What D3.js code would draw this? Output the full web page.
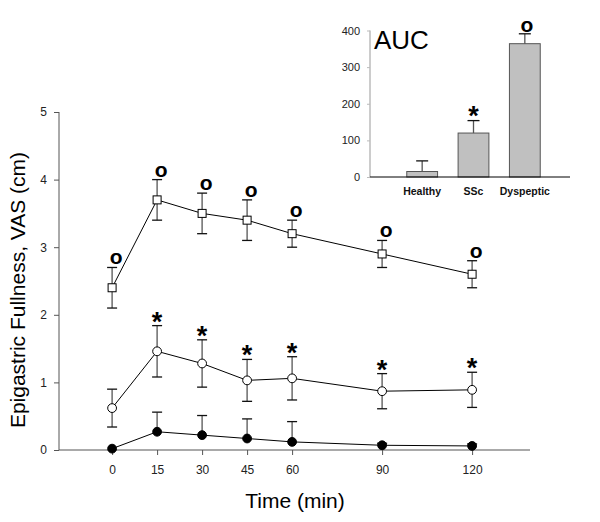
<!DOCTYPE html>
<html><head><meta charset="utf-8">
<script src="https://cdn.jsdelivr.net/npm/d3@7"></script>
<style>body{margin:0;background:#fff}svg{display:block;font-family:"Liberation Sans",Arial,sans-serif}</style>
</head><body>
<svg id="c" width="600" height="522"></svg>
<script>
const times = [0, 15, 30, 45, 60, 90, 120];
const yTicks = [0, 1, 2, 3, 4, 5];
// Dyspeptic (open squares)
const dyspMean = [2.4, 3.7, 3.5, 3.4, 3.2, 2.9, 2.6];
const dyspSE   = [0.3, 0.3, 0.3, 0.3, 0.2, 0.2, 0.2];
const dyspMark = ["o", "o", "o", "o", "o", "o", "o"];
// SSc (open circles)
const sscMean = [0.62, 1.46, 1.28, 1.03, 1.06, 0.87, 0.89];
const sscSE   = [0.28, 0.38, 0.35, 0.31, 0.32, 0.26, 0.26];
const sscMark = ["", "*", "*", "*", "*", "*", "*"];
// Healthy (filled circles)
const healthyMean = [0.02, 0.27, 0.22, 0.17, 0.12, 0.07, 0.06];
const healthySE   = [0.0, 0.29, 0.29, 0.29, 0.30, 0.03, 0.03];
// Inset AUC
const aucCats = ["Healthy", "SSc", "Dyspeptic"];
const aucVals = [15, 120, 364];
const aucSE   = [29, 34, 27];
const aucMark = ["", "*", "o"];
const aucTicks = [0, 100, 200, 300, 400];

const svg = d3.select("#c");
const x = d3.scaleLinear().domain([-17.7, 139.3]).range([59, 530]);
const y = d3.scaleLinear().domain([0, 5]).range([450, 112]);

// axes
const gy = svg.append("g").attr("transform", "translate(59,0)")
  .call(d3.axisLeft(y).tickValues(yTicks).tickSize(5).tickPadding(7).tickFormat(d3.format("d")));
gy.select(".domain").attr("stroke", "#555").attr("d", `M0,${y(5)}V${y(0)}`);
gy.selectAll(".tick line").attr("stroke", "#555");
gy.selectAll("text").attr("font-size", 12).attr("fill", "#222").attr("font-family", "Liberation Sans, Arial");

const gx = svg.append("g").attr("transform", "translate(0,450)")
  .call(d3.axisBottom(x).tickValues(times).tickSize(5).tickPadding(10));
gx.select(".domain").attr("stroke", "#555").attr("d", `M${x.range()[0]},0H${x.range()[1]}`);
gx.selectAll(".tick line").attr("stroke", "#555");
gx.selectAll("text").attr("font-size", 12).attr("fill", "#222").attr("font-family", "Liberation Sans, Arial");

svg.append("text").attr("x", 295).attr("y", 508).attr("text-anchor", "middle")
  .attr("font-size", 21).text("Time (min)");
svg.append("text").attr("transform", "translate(25,290) rotate(-90)").attr("text-anchor", "middle")
  .attr("font-size", 21).text("Epigastric Fullness, VAS (cm)");

function series(mean, se, sym, marks, upOnly) {
  const g = svg.append("g");
  // error bars
  times.forEach((t, i) => {
    const cx = x(t), top = y(mean[i] + se[i]), bot = upOnly ? y(mean[i]) : y(mean[i] - se[i]);
    if (se[i] <= 0) return;
    g.append("line").attr("x1", cx).attr("x2", cx).attr("y1", top).attr("y2", bot).attr("stroke", "#555").attr("stroke-width", 1.3);
    g.append("line").attr("x1", cx - 5).attr("x2", cx + 5).attr("y1", top).attr("y2", top).attr("stroke", "#111").attr("stroke-width", 1.3);
    if (!upOnly) g.append("line").attr("x1", cx - 5).attr("x2", cx + 5).attr("y1", bot).attr("y2", bot).attr("stroke", "#111").attr("stroke-width", 1.3);
  });
  g.append("path").datum(times.map((t, i) => [t, mean[i]]))
    .attr("fill", "none").attr("stroke", "#000").attr("stroke-width", 1)
    .attr("d", d3.line().x(d => x(d[0])).y(d => y(d[1])));
  times.forEach((t, i) => {
    const cx = x(t), cy = y(mean[i]);
    if (sym === "square") g.append("rect").attr("x", cx - 4).attr("y", cy - 4).attr("width", 8).attr("height", 8).attr("fill", "#fff").attr("stroke", "#000");
    else if (sym === "open") g.append("circle").attr("cx", cx).attr("cy", cy).attr("r", 4.4).attr("fill", "#fff").attr("stroke", "#000");
    else g.append("circle").attr("cx", cx).attr("cy", cy).attr("r", 4.4).attr("fill", "#000").attr("stroke", "#000");
    if (marks && marks[i]) {
      const ty = y(mean[i] + se[i]);
      if (marks[i] === "*") g.append("text").attr("x", cx).attr("y", ty + 5).attr("text-anchor", "middle").attr("font-size", 27).attr("font-weight", "bold").text("*");
      else g.append("text").attr("x", cx + 4).attr("y", ty - 3).attr("text-anchor", "middle").attr("font-size", 21).attr("font-weight", "bold").text("o");
    }
  });
}
series(healthyMean, healthySE, "filled", null, true);
series(sscMean, sscSE, "open", sscMark, false);
series(dyspMean, dyspSE, "square", dyspMark, false);

// Inset
const ix = d3.scaleBand().domain(aucCats).range([396.5, 550.5]).paddingInner(0.4).paddingOuter(0.2);
const iy = d3.scaleLinear().domain([0, 400]).range([177, 30.5]);
const gi = svg.append("g");
const giy = gi.append("g").attr("transform", "translate(370,0)")
  .call(d3.axisLeft(iy).tickValues(aucTicks).tickSize(3).tickPadding(7));
giy.select(".domain").attr("stroke", "#999").attr("d", `M0,${iy(400)}V${iy(0)}`);
giy.selectAll(".tick line").attr("stroke", "#bbb");
giy.selectAll("text").attr("font-size", 11).attr("fill", "#222").attr("font-family", "Liberation Sans, Arial");

aucCats.forEach((c, i) => {
  const bx = ix(c), bw = ix.bandwidth(), cx = bx + bw / 2;
  gi.append("rect").attr("x", bx).attr("y", iy(aucVals[i])).attr("width", bw).attr("height", iy(0) - iy(aucVals[i]))
    .attr("fill", "#c0c0c0").attr("stroke", "#555").attr("stroke-width", 1);
  const top = iy(aucVals[i] + aucSE[i]);
  gi.append("line").attr("x1", cx).attr("x2", cx).attr("y1", top).attr("y2", iy(aucVals[i])).attr("stroke", "#555").attr("stroke-width", 1.3);
  gi.append("line").attr("x1", cx - 6).attr("x2", cx + 6).attr("y1", top).attr("y2", top).attr("stroke", "#111").attr("stroke-width", 1.3);
  gi.append("text").attr("x", cx).attr("y", 195).attr("text-anchor", "middle").attr("font-size", 10.5).attr("font-weight", "bold").attr("fill", "#111").text(c);
  if (aucMark[i] === "*") gi.append("text").attr("x", cx).attr("y", top + 4).attr("text-anchor", "middle").attr("font-size", 27).attr("font-weight", "bold").text("*");
  else if (aucMark[i] === "o") gi.append("text").attr("x", cx + 2).attr("y", top - 2).attr("text-anchor", "middle").attr("font-size", 21).attr("font-weight", "bold").text("o");
});
gi.append("line").attr("x1", 370).attr("x2", 570).attr("y1", iy(0)).attr("y2", iy(0)).attr("stroke", "#000");
gi.append("text").attr("x", 374).attr("y", 49).attr("font-size", 26).text("AUC");
</script>
</body></html>
